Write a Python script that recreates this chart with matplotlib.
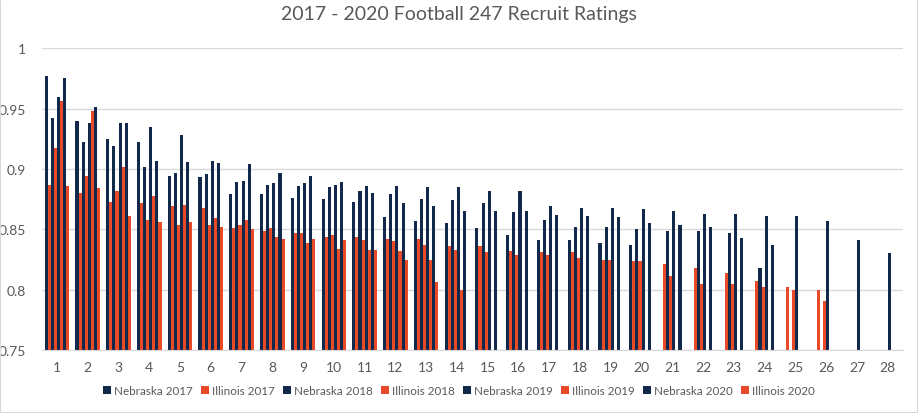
import numpy as np
import matplotlib
matplotlib.use('Agg')
import matplotlib.pyplot as plt
from matplotlib.patches import Rectangle

# recruit rank (1..28) and 247 ratings per class, best first
ranks = list(range(1, 29))
nebraska_2017 = [0.977, 0.940, 0.925, 0.922, 0.894, 0.893, 0.879, 0.879, 0.876, 0.875,
                 0.873, 0.860, 0.857, 0.855, 0.851, 0.845, 0.841, 0.841, 0.839, 0.837]
illinois_2017 = [0.887, 0.880, 0.873, 0.872, 0.869, 0.868, 0.851, 0.849, 0.847, 0.844,
                 0.844, 0.842, 0.842, 0.836, 0.836, 0.832, 0.831, 0.831, 0.825, 0.824,
                 0.821, 0.818, 0.814, 0.807, 0.802, 0.800]
nebraska_2018 = [0.942, 0.922, 0.919, 0.902, 0.897, 0.896, 0.889, 0.887, 0.886, 0.885,
                 0.882, 0.879, 0.875, 0.874, 0.872, 0.864, 0.858, 0.852, 0.852, 0.850,
                 0.849, 0.849, 0.847, 0.818]
illinois_2018 = [0.917, 0.894, 0.882, 0.858, 0.854, 0.854, 0.854, 0.851, 0.847, 0.845,
                 0.841, 0.840, 0.837, 0.833, 0.831, 0.829, 0.829, 0.826, 0.825, 0.824,
                 0.811, 0.805, 0.805, 0.802, 0.800, 0.791]
nebraska_2019 = [0.960, 0.938, 0.938, 0.935, 0.928, 0.907, 0.890, 0.888, 0.888, 0.887,
                 0.886, 0.886, 0.885, 0.885, 0.882, 0.882, 0.869, 0.868, 0.868, 0.867,
                 0.865, 0.863, 0.863, 0.861, 0.861, 0.857, 0.841, 0.830]
illinois_2019 = [0.956, 0.948, 0.902, 0.878, 0.870, 0.859, 0.858, 0.844, 0.839, 0.834,
                 0.833, 0.832, 0.825, 0.800]
nebraska_2020 = [0.975, 0.951, 0.938, 0.907, 0.906, 0.905, 0.904, 0.897, 0.894, 0.889,
                 0.880, 0.872, 0.869, 0.865, 0.865, 0.865, 0.862, 0.861, 0.860, 0.855,
                 0.854, 0.852, 0.843, 0.837]
illinois_2020 = [0.886, 0.884, 0.861, 0.856, 0.856, 0.852, 0.850, 0.842, 0.842, 0.841,
                 0.833, 0.825, 0.806]

series = [
	('Nebraska 2017', nebraska_2017),
	('Illinois 2017', illinois_2017),
	('Nebraska 2018', nebraska_2018),
	('Illinois 2018', illinois_2018),
	('Nebraska 2019', nebraska_2019),
	('Illinois 2019', illinois_2019),
	('Nebraska 2020', nebraska_2020),
	('Illinois 2020', illinois_2020),
]

NAVY = '#13294b'
ORANGE = '#e84a27'
GREY = '#595959'

plt.rcParams['font.family'] = ['Lato', 'DejaVu Sans']

fig = plt.figure(figsize=(9.18, 4.14), dpi=100)
ax = fig.add_axes([0.0453, 0.152, 0.9384, 0.729])

x = np.arange(len(ranks))
width = 0.1
for i, (name, vals) in enumerate(series):
	# shorter classes leave empty slots at the high ranks
	h = np.full(len(ranks), np.nan)
	h[:len(vals)] = vals
	col = NAVY if name.startswith('Nebraska') else ORANGE
	ax.bar(x + (i - 3.5) * width, h, width, color=col, label=name, linewidth=0)

ax.set_xlim(-0.5, len(ranks) - 0.5)
ax.set_ylim(0.75, 1.0)
ax.set_yticks([0.75, 0.8, 0.85, 0.9, 0.95, 1.0])
ax.set_yticklabels(['0.75', '0.8', '0.85', '0.9', '0.95', '1'])
ax.set_xticks(x)
ax.set_xticklabels([str(r) for r in ranks])
ax.tick_params(axis='both', length=0, colors=GREY, labelsize=10)
ax.tick_params(axis='y', pad=11)
ax.tick_params(axis='x', pad=8)
ax.grid(axis='y', color='#d9d9d9', linewidth=1)
ax.set_axisbelow(True)
for s in ['top', 'right', 'left']:
	ax.spines[s].set_visible(False)
ax.spines['bottom'].set_color('#d9d9d9')

fig.suptitle('2017 - 2020 Football 247 Recruit Ratings', y=0.985, fontsize=14, color=GREY)

fig.legend(loc='center', bbox_to_anchor=(0.5, 0.055), ncol=8, frameon=False,
           fontsize=8.4, handlelength=0.7, handleheight=0.7, handletextpad=0.25,
           columnspacing=0.7, labelcolor=GREY)

fig.patches.append(Rectangle((0, 0), 1, 1, transform=fig.transFigure, fill=False,
                             edgecolor='#d9d9d9', linewidth=1.5))

plt.savefig('out.png', dpi=100)
